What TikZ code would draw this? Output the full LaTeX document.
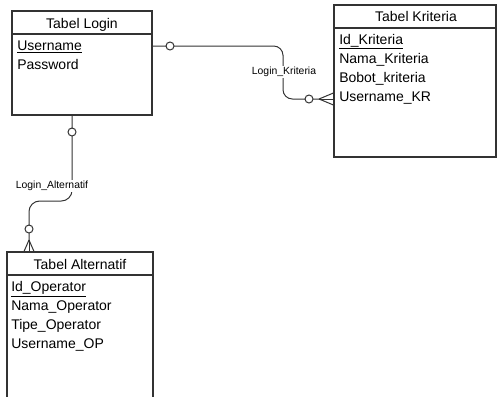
\documentclass[tikz,border=0pt]{standalone}
\usepackage{fontspec}
\setmainfont{Liberation Sans}
\usetikzlibrary{fit}
\begin{document}
\begin{tikzpicture}[x=0.75pt,y=-0.75pt,
  tbl/.style={draw=black!80, line width=0.85pt, inner sep=0pt},
  sepline/.style={draw=black!80, line width=0.85pt},
  conn/.style={draw=black!80, line width=0.75pt},
  circ/.style={circle, draw=black!80, line width=0.75pt, fill=white, minimum size=6pt, inner sep=0pt},
  ttl/.style={font=\fontsize{10.5}{12}\selectfont, anchor=base, inner sep=0pt},
  fld/.style={font=\fontsize{10.5}{12}\selectfont, anchor=base west, inner sep=0pt},
  lbl/.style={font=\fontsize{7.8}{9}\selectfont, fill=white, inner sep=1pt}
]
\clip (0,0) rectangle (498,396);
\fill[white] (0,0) rectangle (498,396);

% tables
\node[tbl, fit={(12,11) (152,115)}] (login) {};
\node[tbl, fit={(334,5) (496,157)}] (kr) {};
\node[tbl, fit={(7,252) (153,404)}] (alt) {};

\coordinate (h1) at (0,34);
\coordinate (h2) at (0,28);
\coordinate (h3) at (0,275);
\draw[sepline] (login.west |- h1) -- (login.east |- h1);
\draw[sepline] (kr.west |- h2) -- (kr.east |- h2);
\draw[sepline] (alt.west |- h3) -- (alt.east |- h3);

% texts
\node[ttl] (t1) at (82,28) {Tabel Login};
\node[fld] (f11) at (17,50) {\underline{Username}};
\node[fld] (f12) at (17,69) {Password};

\node[ttl] (t2) at (416,21) {Tabel Kriteria};
\node[fld] (f21) at (339,44) {\underline{Id\_Kriteria}};
\node[fld] (f22) at (339,63) {Nama\_Kriteria};
\node[fld] (f23) at (339,82) {Bobot\_kriteria};
\node[fld] (f24) at (339,101) {Username\_KR};

\node[ttl] (t3) at (80,269) {Tabel Alternatif};
\node[fld] (f31) at (11,291) {\underline{Id\_Operator}};
\node[fld] (f32) at (11,310) {Nama\_Operator};
\node[fld] (f33) at (11,329) {Tipe\_Operator};
\node[fld] (f34) at (11,348) {Username\_OP};

% connector Login -> Kriteria
\coordinate (y46) at (0,46);
\coordinate (crowK) at (319,99);
\coordinate (yk1) at (0,93);
\coordinate (yk2) at (0,99);
\coordinate (yk3) at (0,105);
\draw[conn, rounded corners=7] (login.east |- y46) -- (283,46) -- (283,99) -- (crowK);
\draw[conn] (crowK) -- (kr.west |- yk1);
\draw[conn] (crowK) -- (kr.west |- yk2);
\draw[conn] (crowK) -- (kr.west |- yk3);
\node[circ] (o1) at (170,46) {};
\node[circ] (o2) at (309,99) {};
\node[lbl] (lk) at (284,72) {Login\_Kriteria};

% connector Login -> Alternatif
\coordinate (x72) at (72,0);
\coordinate (crowA) at (29,240);
\coordinate (xa1) at (24,0);
\coordinate (xa2) at (29,0);
\coordinate (xa3) at (34,0);
\draw[conn, rounded corners=8] (login.south -| x72) -- (72,201) -- (29,201) -- (crowA);
\draw[conn] (crowA) -- (alt.north -| xa1);
\draw[conn] (crowA) -- (alt.north -| xa2);
\draw[conn] (crowA) -- (alt.north -| xa3);
\node[circ] (o3) at (72,132) {};
\node[circ] (o4) at (29,229) {};
\node[lbl] (la) at (52,186) {Login\_Alternatif};
\end{tikzpicture}
\end{document}
